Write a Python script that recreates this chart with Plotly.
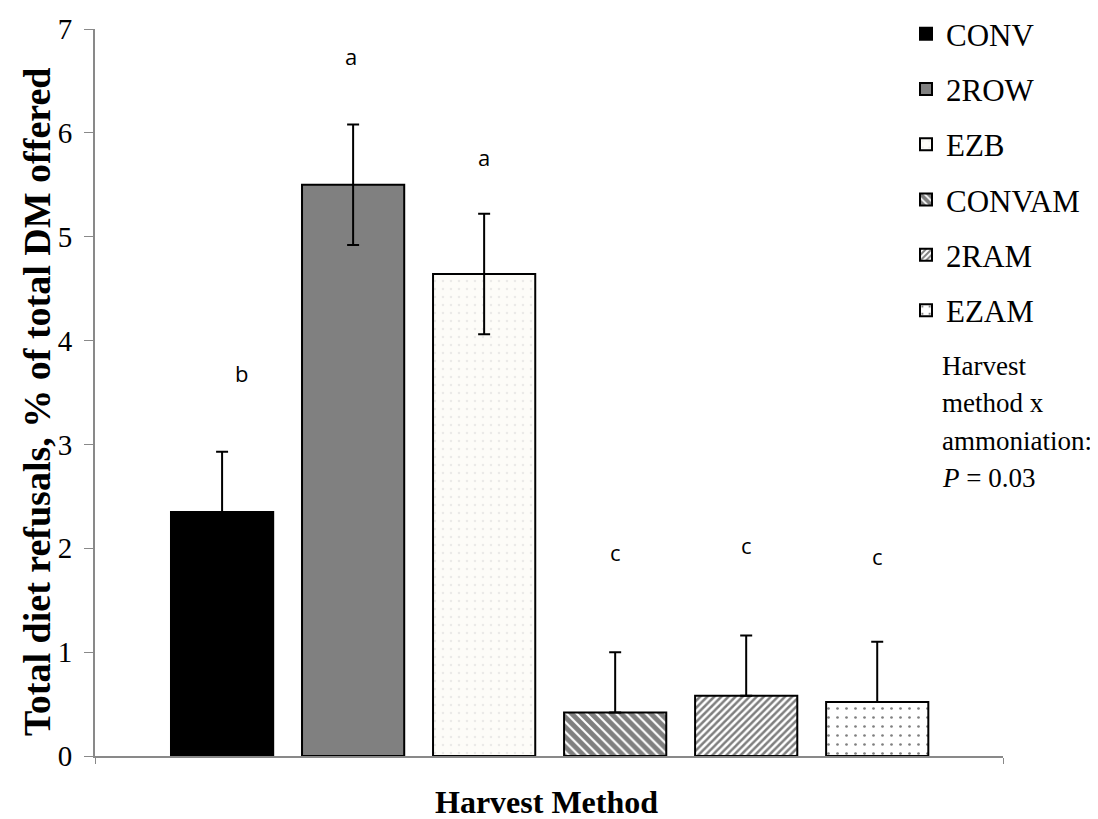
import plotly.graph_objects as go

categories = ["CONV", "2ROW", "EZB", "CONVAM", "2RAM", "EZAM"]
values = [2.35, 5.50, 4.64, 0.42, 0.58, 0.52]
err_plus = [0.58, 0.58, 0.58, 0.58, 0.58, 0.58]
err_minus = [0.58, 0.58, 0.58, 0.0, 0.0, 0.0]
letters = ["b", "a", "a", "c", "c", "c"]
letter_y = [3.69, 6.74, 5.77, 1.96, 2.03, 1.93]
letter_dx = [0.15, -0.02, 0.0, 0.0, 0.0, 0.0]
y_ticks = [0, 1, 2, 3, 4, 5, 6, 7]
note_lines = ["Harvest", "method x", "ammoniation:", "<i>P</i> = 0.03"]

colors = ["#000000", "#808080", "#FFFFFF", "#FFFFFF", "#FFFFFF", "#FFFFFF"]
patterns = [
    dict(shape=""),
    dict(shape=""),
    dict(shape=".", fgcolor="#D8D8D8", bgcolor="#FDFCF8", size=8, solidity=0.08),
    dict(shape="\\", fgcolor="#000000", bgcolor="#FFFFFF", size=7, solidity=0.7),
    dict(shape="/", fgcolor="#000000", bgcolor="#FFFFFF", size=5, solidity=0.5),
    dict(shape=".", fgcolor="#000000", bgcolor="#FFFFFF", size=9, solidity=0.07),
]

serif = "Liberation Serif, Times New Roman, serif"

# page has an 8px body margin; plot area in page px: x 95..1003, y 29..756
PX0, PX1, PY0, PY1 = 95, 1003, 756, 29


def px(x):
    return (x - PX0) / (PX1 - PX0)


def py(y):
    return (PY0 - y) / (PY0 - PY1)


fig = go.Figure()
for i, c in enumerate(categories):
    fig.add_trace(go.Bar(
        x=[i], y=[values[i]], name=c, width=0.78,
        legendgroup=c,
        marker=dict(color=colors[i], pattern=patterns[i],
                    line=dict(color="#000000", width=2)),
        error_y=dict(type="data", array=[err_plus[i]], arrayminus=[err_minus[i]],
                     color="#000000", thickness=2, width=6),
    ))
    fig.add_annotation(x=i + letter_dx[i], y=letter_y[i], text=letters[i],
                       showarrow=False, font=dict(family="Open Sans, sans-serif", size=22, color="#000"))

for k, line in enumerate(note_lines):
    fig.add_annotation(xref="paper", yref="paper", x=px(940), y=py(366 + 37.3 * k),
                       xanchor="left", yanchor="middle", align="left", showarrow=False,
                       text=line, font=dict(family=serif, size=27, color="#000"))
fig.add_annotation(xref="paper", yref="paper", x=px(37), y=py(402),
                   textangle=-90, showarrow=False, xanchor="center", yanchor="middle",
                   text="<b>Total diet refusals, % of total DM offered</b>",
                   font=dict(family=serif, size=38, color="#000"))
fig.add_annotation(xref="paper", yref="paper", x=px(546), y=py(822),
                   showarrow=False, xanchor="center", yanchor="bottom",
                   text="<b>Harvest Method</b>",
                   font=dict(family=serif, size=32, color="#000"))

fig.update_layout(
    width=1090, height=811,
    margin=dict(l=87, r=95, t=21, b=63, autoexpand=False),
    plot_bgcolor="white", paper_bgcolor="white",
    showlegend=True,
    legend=dict(x=px(906), y=py(7), xanchor="left", yanchor="top",
                font=dict(family=serif, size=31, color="#000"),
                tracegroupgap=12, bgcolor="rgba(0,0,0,0)"),
    bargap=0.2,
)
fig.update_xaxes(range=[-0.97, 5.96], showline=True, linecolor="#898989", linewidth=2,
                 tickvals=[-0.97, 5.96], ticktext=["", ""], ticks="outside", ticklen=6,
                 tickcolor="#898989", showgrid=False, zeroline=False)
fig.update_yaxes(range=[0, 7], tickvals=y_ticks, showline=True, linecolor="#898989", linewidth=2,
                 ticks="outside", ticklen=9, tickcolor="#898989", showgrid=False, zeroline=False,
                 tickfont=dict(family=serif, size=29, color="#000"), ticklabelstandoff=6)

fig.write_html("out.html")
